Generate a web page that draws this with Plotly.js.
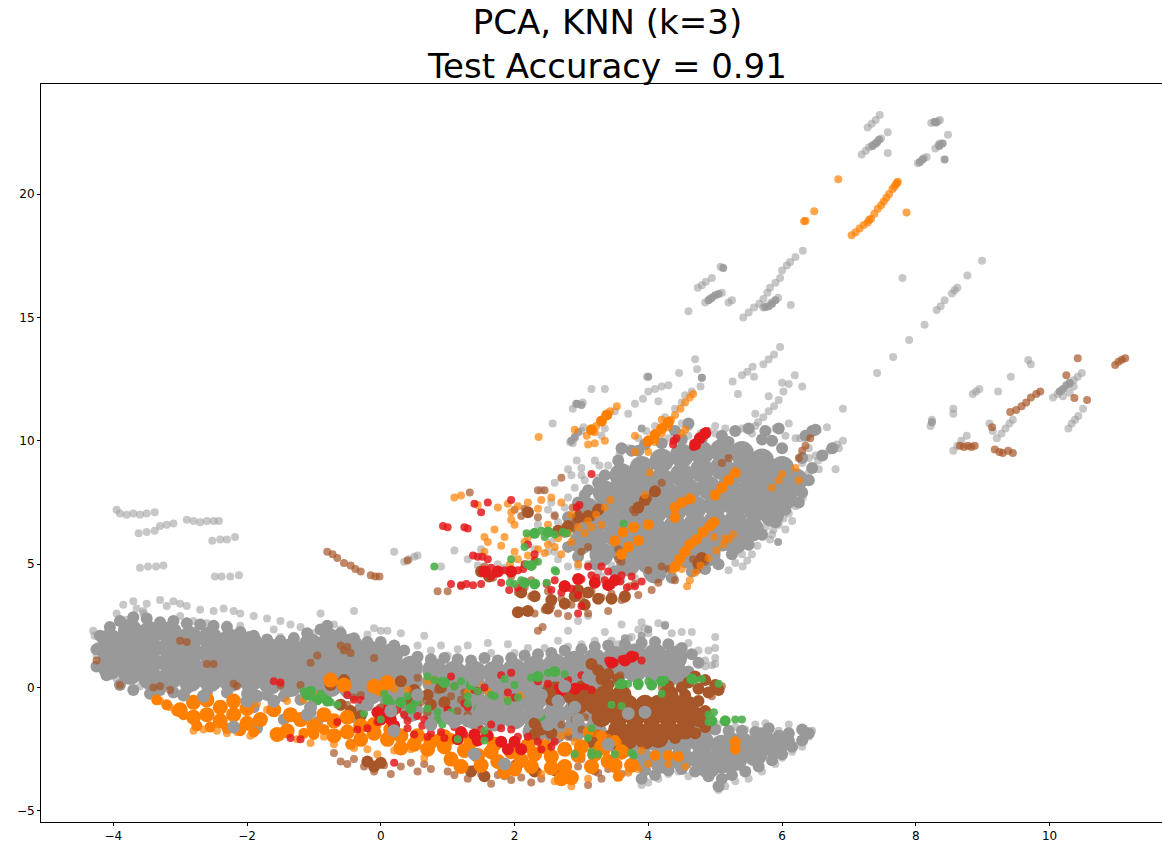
<!DOCTYPE html>
<html><head><meta charset="utf-8">
<script src="https://cdn.plot.ly/plotly-3.0.1.min.js"></script>
<style>html,body{margin:0;padding:0;background:#fff;overflow:hidden}</style>
</head><body><div id="chart"></div>
<script>
// Tick labels
const xTicks=[-4,-2,0,2,4,6,8,10];
const yTicks=[-5,0,5,10,15,20];
// Dense overplotted regions (drawn with wide markers)
const grayCore=[
[-4.05,1.9],[-4.05,1.3],[-4.05,0.8],[-3.75,2.3],[-3.75,1.7],[-3.75,1.1],[-3.75,0.6],[-3.45,2.2],[-3.45,1.6],[-3.45,1.0],[-3.45,0.4],[-3.15,2.2],[-3.15,1.6],[-3.15,1.0],[-3.15,0.4],
[-2.85,2.0],[-2.85,1.4],[-2.85,0.8],[-2.85,0.3],[-2.55,2.0],[-2.55,1.4],[-2.55,0.8],[-2.55,0.3],[-2.25,1.9],[-2.25,1.3],[-2.25,0.8],[-2.25,0.3],[-1.95,1.8],[-1.95,1.2],[-1.95,0.7],[-1.95,0.3],
[-1.65,1.5],[-1.65,1.0],[-1.65,0.5],[-1.65,0.2],[-1.35,1.5],[-1.35,1.0],[-1.35,0.5],[-1.35,0.1],[-1.05,1.7],[-1.05,1.1],[-1.05,0.5],[-1.05,0.0],[-0.75,1.9],[-0.75,1.3],[-0.75,0.7],[-0.75,0.1],
[-0.45,1.7],[-0.45,1.2],[-0.45,0.6],[-0.45,0.0],[-0.15,1.4],[-0.15,0.9],[-0.15,0.4],[-0.15,-0.2],[0.15,1.3],[0.15,0.7],[0.15,0.2],[0.15,-0.4],[0.45,0.8],[0.45,0.3],[0.45,-0.3],[0.45,-0.9],
[0.8,0.7],[0.8,0.2],[0.8,-0.4],[0.8,-1.0],[1.1,0.6],[1.1,0.1],[1.1,-0.5],[1.1,-1.1],[1.4,0.6],[1.4,0.0],[1.4,-0.6],[1.4,-1.2],[1.7,0.6],[1.7,0.0],[1.7,-0.6],[1.7,-1.3],[2.0,0.7],[2.0,0.1],[2.0,-0.5],[2.0,-1.2],
[2.3,0.8],[2.3,0.2],[2.3,-0.5],[2.3,-1.2],[2.3,-1.8],[2.6,0.9],[2.6,0.3],[2.6,-0.4],[2.6,-1.1],[2.6,-1.8],[2.9,1.0],[2.9,0.4],[2.9,-0.3],[2.9,-1.0],[2.9,-1.7],[3.2,1.1],[3.2,0.5],[3.2,-0.2],[3.2,-1.0],[3.2,-1.8],
[3.5,1.2],[3.5,0.6],[3.8,1.3],[3.8,0.7],[4.1,1.3],[4.1,0.7],[4.4,1.2],[4.4,0.6],[3.6,-2.4],[3.9,-2.2],[3.9,-2.9],[4.2,-2.3],[4.2,-3.0],[4.5,-2.2],[4.5,-2.9],[4.8,-2.2],[4.8,-2.9],[4.9,-3.2],[5.1,-2.4],[5.1,-3.0],[5.3,-2.9],[5.4,-2.3],[5.6,-2.7],[5.7,-2.1],[5.9,-2.4],
[3.6,8.6],[3.9,8.9],[4.2,9.2],[4.5,9.4],[4.8,9.5],[5.1,9.6],[5.4,9.5],[5.7,9.2],[6.0,8.9],[6.2,8.4],
[3.35,7.9],[3.6,8.1],[3.9,8.3],[4.2,8.4],[4.5,8.6],[4.8,8.8],[5.1,8.9],[5.4,8.8],[5.7,8.6],[6.0,8.2],
[3.1,7.2],[3.4,7.4],[3.7,7.6],[4.0,7.7],[4.3,7.8],[4.6,8.0],[4.9,8.1],[5.2,8.1],[5.5,8.0],[5.8,7.8],[6.05,7.7],
[3.0,6.6],[3.2,6.7],[3.5,6.9],[3.8,7.0],[4.1,7.1],[4.4,7.2],[4.7,7.3],[5.0,7.4],[5.3,7.4],[5.6,7.2],[5.85,7.0],
[3.0,5.9],[3.2,6.0],[3.5,6.2],[3.8,6.3],[4.1,6.4],[4.4,6.5],[4.7,6.6],[5.0,6.7],[5.3,6.7],[5.55,6.4],
[3.3,5.4],[3.6,5.6],[3.9,5.7],[4.2,5.8],[4.5,5.9],[4.8,6.0],[5.1,6.0],[5.3,5.9],
[3.7,5.0],[4.0,5.1],[4.3,5.2],[4.6,5.3],[4.9,5.4],[4.1,4.7]];
const grayRim=[
[-4.2,2.1],[-4.05,2.45],[-3.9,2.7],[-3.7,2.85],[-3.5,2.8],[-3.3,2.65],[-3.1,2.7],[-2.9,2.6],[-2.7,2.55],[-2.5,2.5],[-2.3,2.45],[-2.1,2.25],[-1.9,2.1],[-1.7,1.95],[-1.5,1.9],[-1.3,2.0],[-1.1,2.2],[-0.9,2.35],[-0.8,2.5],[-0.6,2.2],[-0.4,2.0],[-0.2,1.85],[0,1.85],[0.2,1.7],[0.35,1.5],[0.55,1.25],[0.75,1.15],[0.95,1.2],[1.15,1.15],[1.35,1.1],[1.55,1.2],[1.75,1.1],[1.95,1.2],[2.15,1.3],[2.35,1.35],[2.55,1.4],[2.75,1.5],[3.0,1.55],[3.2,1.65],[3.4,1.7],[3.65,1.75],[3.9,1.8],[4.1,1.85],[4.3,1.75],[4.5,1.6],[4.65,1.35],[4.75,1.0],[4.6,0.65],
[-4.25,1.55],[-4.25,0.85],[-4.1,0.5],[-3.9,0.1],[-3.7,-0.1],[-3.45,-0.25],[-3.3,-0.1],[-3.1,-0.2],[-2.9,-0.05],[-2.6,-0.2],[-2.3,-0.2],[-2.0,-0.25],[-1.7,-0.3],[-1.45,-0.35],[-1.2,-0.5],[-1.9,-0.8],[-2.1,-1.7],[-1.85,-1.65],[-1.45,-1.3],[-1.05,-1.0],[-0.95,-1.4],[-0.6,-0.7],[-0.3,-0.8],[0.0,-0.9],[-0.4,-1.2],
[3.4,-2.3],[3.7,-2.0],[3.95,-3.35],[3.9,-3.7],[4.1,-3.55],[4.3,-3.35],[4.5,-3.3],[4.7,-3.4],[4.9,-3.6],[5.1,-3.7],[5.05,-4.0],[5.25,-3.55],[5.45,-3.4],[5.65,-3.2],[5.85,-2.95],[6.0,-2.7],[6.15,-2.4],[6.3,-2.15],[6.4,-1.85],[6.3,-1.7],[6.1,-1.85],[6.1,-2.15],[5.95,-1.95],[5.8,-1.65],[5.6,-1.8],[5.4,-1.75],[5.2,-1.75],[5.0,-1.7],[5.25,-2.05],[4.85,-1.9],[4.75,-1.75],
[3.35,8.6],[3.55,9.2],[3.85,9.6],[4.2,9.9],[4.5,10.05],[4.8,10.1],[5.1,10.2],[5.3,10.4],[5.5,10.5],[5.75,10.4],[5.95,10.5],[5.7,10.05],[6.0,9.7],[6.3,9.3],[6.45,8.9],[6.4,8.4],[6.3,7.9],[6.25,7.5],[6.05,7.2],[5.9,6.7],[5.7,6.2],[5.5,5.8],[5.25,5.4],[5.05,5.0],[4.85,4.8],[4.65,4.7],[4.35,4.45],[3.5,4.7],[3.2,5.0],[2.95,5.3],[2.8,5.7],[2.75,6.3],[2.8,6.9],[2.95,7.5],[3.1,8.0],[6.35,10.2],[6.45,10.4],[6.5,10.45],[3.05,7.8],[3.25,8.3],[5.2,9.95],[5.85,10.0],
[6.6,9.4],[6.75,9.7],[4.4,10.4],[4.6,10.7],[3.95,9.85],[3.75,9.6],[3.6,9.7]];
const grayDark=[
[8.3,22.9],[8.28,22.93],[7.42,22.1],[7.4,22.05],[7.45,22.2],[7.35,21.95],[8.4,22.05],[8.35,21.95],[8.43,21.4],[8.1,21.4],[8.06,21.3],[5.8,15.45],[5.75,15.42],[5.85,15.55],[5.9,15.7],[4.95,15.8],[4.9,15.7],[5.0,15.9],[5.05,15.95],[5.12,17.0],[10.25,12.25],[10.15,12.0],[10.2,12.1],[10.3,12.35],[8.24,10.75],[5.94,5.9],[4.0,12.6],[3.0,11.45],[2.93,11.5],[4.8,12.55],[3.65,2.0],[4.25,2.5],[4.0,2.35],[3.9,2.1],[2.9,10.15],[2.85,10.0],[2.95,10.35],[3.9,10.5]];
const grayDots=[
[-4.3,2.3],[-4.28,2.1],[-4.22,1.7],[-4.25,1.3],[-4.22,0.9],[-4.1,0.6],[-3.95,0.35],[-3.9,0.1],[-3.6,0.05],[-3.45,-0.25],[-3.4,-0.1],[-3.2,0.05],
[-3.95,3.0],[-3.8,2.75],[-3.65,3.2],[-3.85,3.35],[-3.7,3.5],[-3.3,3.55],[-3.1,3.5],[-3.0,3.4],[-3.2,3.3],[-3.5,3.4],[-3.55,3.1],[-2.9,3.3],[-2.7,3.15],[-2.5,3.1],[-2.35,3.2],[-2.2,3.1],[-2.1,3.0],[-1.9,2.9],[-1.7,2.8],[-1.5,2.7],[-1.35,2.55],[-1.2,2.45],[-3.55,3.0],
[-3.0,2.9],[-2.8,2.7],[-2.6,2.6],[-2.3,2.55],[-2.1,2.5],[-1.6,2.35],[-1.3,2.1],[-1.5,2.05],[-1.0,2.2],[-0.6,2.35],[-0.7,2.55],[-0.6,2.1],[-0.2,2.15],[-0.1,2.4],[0,2.3],[0.3,2.2],[0.65,2.1],
[-0.9,3.0],[-0.4,3.1],[0.1,2.3],[0.9,1.7],[1.15,1.55],[1.3,1.7],[1.6,1.8],[1.9,1.75],[2.2,1.6],[0.55,1.7],[0.75,1.5],[1.65,1.4],[2.0,1.4],[2.45,1.6],[1.0,1.3],
[2.65,1.9],[2.8,2.3],[2.95,2.7],[3.1,2.9],[3.2,1.9],[3.35,2.25],[3.45,1.9],[3.55,1.75],[3.7,2.0],[3.75,2.05],[3.85,2.35],[3.95,2.4],[4.0,2.2],[4.15,2.6],[4.25,2.55],[4.35,2.2],[4.5,2.25],[4.65,2.25],[4.45,1.6],[4.6,1.8],[4.75,1.5],[4.9,1.5],[3.4,1.7],[3.7,1.55],[3.0,1.75],[2.8,1.65],[3.6,2.55],[3.9,2.65],
[4.85,1.1],[5.0,0.95],[5.0,1.2],[4.95,0.9],[4.85,0.85],[5.0,2.05],[5.0,1.6],
[3.7,-3.4],[3.9,-3.95],[4.0,-3.85],[4.15,-3.7],[4.3,-3.5],[4.45,-3.4],[4.6,-3.6],[5.05,-4.15],[5.15,-4.0],[5.3,-3.8],[5.5,-3.7],[5.7,-3.4],[5.9,-3.1],[6.0,-2.85],[6.15,-2.6],[6.3,-2.4],[6.4,-2.0],[6.45,-1.75],[6.3,-1.65],[6.1,-1.5],[5.95,-1.75],[5.75,-1.45],[5.6,-1.5],[5.45,-1.7],[5.3,-1.6],[5.05,-1.5],[4.95,-1.6],
[-3.95,7.2],[-3.9,7.05],[-3.8,7.0],[-3.7,7.05],[-3.6,7.0],[-3.5,7.05],[-3.38,7.1],[-3.62,6.25],[-3.5,6.3],[-3.38,6.35],[-3.3,6.55],[-3.2,6.6],[-3.1,6.65],[-3.6,4.85],[-3.48,4.9],[-3.36,4.9],[-3.25,4.95],[-2.9,6.8],[-2.8,6.75],[-2.7,6.7],[-2.6,6.75],[-2.5,6.75],[-2.42,6.75],[-2.52,5.95],[-2.4,6.0],[-2.3,6.0],[-2.18,6.1],[-2.48,4.5],[-2.38,4.5],[-2.25,4.5],[-2.12,4.55],[0.42,5.2],[0.5,5.3],[0.55,5.35],[0.2,5.5],[0.35,5.1],
[1.1,5.55],[1.3,5.2],[1.45,4.95],[1.5,5.6],[1.75,5.0],[1.85,4.85],[0.9,4.9],
[2.57,10.7],[2.83,9.95],[2.9,10.1],[3.0,10.4],[3.03,10.55],[2.87,9.9],[2.87,11.3],[2.92,11.5],[3.02,11.55],[3.15,12.1],[3.35,12.1],[2.93,9.2],[3.0,8.9],[3.2,9.2],[3.27,9.0],[2.8,8.85],[2.85,8.6],[3.05,8.4],[2.6,8.3],[2.4,8.0],
[3.57,9.45],[3.7,9.7],[3.85,10.1],[3.97,10.4],[3.3,10.2],[3.35,10.5],[3.5,11.2],[3.7,11.1],[3.8,11.5],[3.92,11.7],[4.0,12.0],[4.1,12.1],[4.2,12.2],[4.3,12.25],[4.15,11.6],[3.98,12.6],[4.46,12.75],[4.7,13.3],[4.73,12.9],[4.8,12.55],[4.78,12.2],[4.65,12.0],[4.55,11.85],[4.5,11.55],[4.4,11.3],[4.25,10.95],[4.1,10.6],[4.35,10.5],[4.5,10.7],[4.6,10.55],[4.78,10.3],
[5.97,13.8],[5.72,13.1],[5.8,13.3],[5.88,13.5],[5.4,12.66],[5.48,12.8],[5.56,13.0],[5.26,12.4],[5.58,12.6],[5.34,11.9],[5.8,11.8],[5.64,10.75],[5.72,10.95],[5.8,11.2],[5.88,11.4],[5.95,11.65],[6.02,12.0],[6.1,12.3],[6.19,12.66],[6.0,12.35],[6.3,12.2],[5.6,11.1],[6.91,11.3],[6.67,10.55],[6.8,8.85],[6.54,9.2],[6.62,9.45],[6.7,9.6],[6.82,9.85],[6.91,10.0],[6.85,9.7],[6.27,10.1],[5.5,10.5],[5.55,10.3],[5.75,10.4],[5.9,10.5],[6.1,10.7],[5.0,10.6],[4.9,10.4],[5.15,10.5],[5.3,10.45],[5.4,10.5],[6.4,9.7],[6.5,9.4],[6.4,9.3],[6.3,9.1],[6.55,8.85],[6.4,8.7],[6.3,8.6],
[5.87,6.38],[5.95,6.6],[6.02,6.85],[6.1,7.05],[6.2,7.35],[6.31,7.7],[6.05,6.4],[6.15,6.75],[5.41,4.9],[5.48,5.15],[5.55,5.4],[5.63,5.75],[5.71,6.1],[5.2,4.75],[5.3,5.05],[5.4,5.4],[5.5,5.7],[5.82,6.0],[5.6,6.25],[5.75,6.5],[5.85,6.2],
[3.1,8.0],[2.9,8.1],[2.8,7.7],[2.55,7.5],[2.35,6.6],[2.65,6.7],[2.6,6.2],[2.3,5.6],[2.5,5.5],[2.65,5.2],[2.8,4.9],[3.1,5.0],[3.45,4.95],[3.55,4.6],[3.3,4.5],[3.8,4.45],
[3.0,8.6],[3.25,8.5],[3.4,9.0],[3.6,9.6],[4.0,9.95],[4.3,10.1],[4.6,10.2],[5.0,10.3],[5.6,10.6],[6.05,10.2],[6.2,10.1],[2.6,7.0],[2.5,7.2],[2.75,7.3],[2.55,5.9],[2.6,5.5],[2.95,4.9],[3.25,4.7],[3.6,4.35],
[7.28,22.7],[7.34,22.85],[7.4,23.0],[7.46,23.2],[7.19,21.6],[7.25,21.75],[7.3,21.9],[7.36,22.0],[7.48,22.25],[7.58,22.5],[7.58,21.66],[8.23,22.88],[8.33,22.95],[8.36,23.0],
[8.29,21.85],[8.34,22.0],[8.48,22.4],[8.36,22.05],[8.03,21.25],[8.12,21.45],[8.16,21.5],
[6.0,16.9],[6.07,17.1],[6.12,17.25],[6.2,17.45],[6.31,17.7],[5.42,15.0],[5.5,15.2],[5.58,15.4],[5.66,15.55],[5.72,15.75],[5.78,16.0],[5.82,16.2],[5.9,16.4],[5.97,16.6],[5.72,15.4],[5.84,15.6],[5.94,15.8],
[4.74,16.2],[4.8,16.3],[4.86,16.45],[4.95,16.6],[5.08,17.05],[4.85,15.6],[4.92,15.75],[5.1,16.0],[5.25,15.7],[5.2,15.6],[4.6,15.25],[6.13,15.5],
[7.42,12.75],[7.66,13.4],[7.9,14.08],[8.13,14.7],[8.31,15.3],[8.37,15.45],[8.43,15.7],[8.54,15.97],[8.58,16.1],[8.62,16.2],[8.77,16.7],[8.99,17.3],[7.8,16.6],
[8.22,10.6],[8.24,10.85],[8.56,11.1],[8.56,11.3],[8.85,11.9],[8.9,12.0],[8.95,12.1],[9.23,12.0],[9.42,12.6],[9.68,13.27],[9.72,13.1],
[9.21,10.1],[9.28,10.3],[9.34,10.5],[9.4,10.7],[9.45,10.85],[8.56,9.6],[8.62,9.8],[8.68,10.0],[8.76,10.2],[9.1,10.7],[9.15,10.4],
[10.05,11.75],[10.12,11.9],[10.18,12.05],[10.3,12.3],[10.36,12.45],[10.42,12.6],[10.48,12.75],[10.2,11.8],[10.3,11.95],[10.36,12.2],[10.28,10.5],[10.33,10.7],[10.38,10.85],[10.43,11.0],[10.5,11.3]];
const brownCore=[
[2.62,-0.15],[2.85,-0.25],[3.1,-0.3],[3.35,-0.3],[2.95,-0.7],[3.2,-0.7],[3.45,-0.7],[3.7,-0.7],[3.95,-0.7],[4.15,-0.7],[4.4,-0.7],[4.6,-0.75],[3.3,-1.2],[3.55,-1.2],[3.8,-1.2],[4.05,-1.2],[4.3,-1.2],[4.55,-1.2],[4.75,-1.2],[3.55,-1.7],[3.8,-1.7],[4.05,-1.7],[4.3,-1.7],[4.55,-1.7],[3.2,-2.1],[3.45,-2.1],[3.7,-2.1],[3.95,-2.1],[4.15,-2.05],[4.3,-0.3],[3.6,-0.3]];
const brownMid=[
[2.5,-0.1],[2.55,-0.5],[2.75,0.05],[3.0,0.05],[3.25,0.7],[3.4,0.55],[3.55,0.35],[3.3,0.35],[3.15,0.95],[3.4,0.1],[4.55,-0.3],[4.75,-0.55],[4.85,-0.95],[4.3,0.05],[4.5,0.0],[4.7,0.45],[4.85,0.3],[5.0,0.1],[4.9,-0.2],[4.75,-0.05],[5.05,-0.1],[4.6,0.2],[4.85,-1.6],[4.7,-1.85],[4.4,-2.05],
[2.3,-1.45],[2.4,-1.7],[2.55,-1.85],[2.3,-1.9],
[0.3,0.25],[0.5,-0.1],[0.7,-0.3],[0.9,0.0],[0.75,-0.7],[0.95,-0.6],[0.45,-0.55],[-0.6,-0.7],[-0.45,-0.95],[-0.3,-1.15],[-0.75,0.1],[-0.55,0.3],
[-0.2,-3.0],[-0.1,-3.2],[0.0,-3.05],[2.05,-3.1],[2.3,-3.4],[2.6,-3.35],[1.35,-3.4],[1.55,-3.6],
[1.5,4.7],[1.62,4.5],[2.1,3.85],[2.3,3.7],[2.55,3.55],[2.5,3.2],[2.75,3.4],[2.9,3.7],[3.05,3.35],[3.25,3.6],[3.45,3.6],[3.65,3.7],[2.2,3.1],[2.05,3.05],[2.75,4.1],[2.95,3.95],[3.1,3.85],
[2.95,6.9],[3.1,6.95],[3.25,7.2],[2.8,6.55],[2.65,6.35],[2.2,7.1],[3.85,7.3],[3.95,7.6],[4.1,7.95],[4.75,5.05],[4.8,5.25]];
const brownDots=[
[2.43,-0.3],[2.5,0.05],[3.6,0.15],[3.58,0.5],[4.2,0.0],[4.35,-0.15],[5.1,0.05],[4.95,-0.35],
[2.9,-1.3],[3.0,-1.7],[2.7,-1.5],[3.05,-1.2],[2.8,-2.0],
[-4.25,1.1],[-3.9,0.1],[-3.4,0.0],[-3.3,0.05],[-3.15,-0.1],[-3.0,1.9],[-2.9,1.85],[-2.6,0.95],[-2.5,0.95],[-2.2,0.15],[-2.15,0.05],[-1.05,1.0],[-0.95,1.3],[-0.6,1.7],[-0.55,1.5],[-0.5,1.65],[-0.45,1.4],[-0.1,1.2],[-1.5,0.1],[-1.2,0.1],
[0.55,0.4],[0.85,-0.1],[1.05,-0.35],[1.1,0.05],[1.2,-0.5],[1.25,-0.2],[0.6,-0.6],[0.7,-1.0],[1.0,-0.9],[1.15,-0.95],[1.3,-1.1],[0.0,-0.8],[0.1,-1.2],[0.2,-1.0],[0.3,-0.7],[-0.5,-0.7],[-0.4,-0.4],[-0.3,-0.3],
[-0.6,-3.0],[-0.5,-3.1],[-0.4,-2.9],[-0.25,-3.2],[-0.1,-3.4],[0.05,-3.15],[0.15,-3.5],[0.3,-3.2],[0.55,-3.4],[0.65,-3.1],[0.75,-3.3],[1.0,-3.4],[1.25,-3.2],[1.3,-3.7],[1.5,-3.5],[1.65,-3.9],[1.85,-3.6],
[2.1,-3.65],[2.25,-3.85],[2.35,-3.4],[2.55,-3.3],[2.7,-3.5],[2.85,-3.75],[3.1,-3.95],[3.2,-3.4],[3.4,-3.3],[3.55,-3.1],[3.6,-3.5],[2.0,-3.1],
[1.75,-3.55],[1.95,-3.75],[2.4,-3.7],[2.95,-3.2],[3.3,-3.7],[3.75,-3.25],[1.4,-3.3],[1.1,-3.55],[0.45,-3.05],[-0.7,-2.65],[3.0,-2.9],[3.25,-3.45],
[-0.8,5.5],[-0.72,5.4],[-0.65,5.25],[-0.55,5.05],[-0.45,4.95],[-0.38,4.8],[-0.3,4.7],[-0.15,4.55],[-0.08,4.5],[-0.02,4.5],[0.4,5.15],
[1.55,4.9],[1.65,4.55],[1.7,4.6],[1.95,4.5],[1.68,4.45],[0.85,3.9],[1.2,4.1],[1.0,3.9],
[2.05,3.85],[2.15,4.05],[2.25,3.7],[2.5,3.9],[2.55,3.3],[2.7,3.6],[2.85,3.35],[3.0,3.6],[3.15,3.9],[3.3,3.65],[3.45,3.8],[3.6,3.55],[3.72,4.1],[3.85,3.75],[4.05,3.95],[4.15,4.25],[2.05,3.0],[2.1,3.1],[2.3,3.0],[2.45,3.15],[2.65,3.0],[2.8,2.9],[3.1,3.0],[3.4,3.1],[3.65,3.6],[2.95,4.35],[2.25,4.35],[2.35,2.3],[2.42,2.45],
[2.87,7.3],[2.95,7.05],[3.05,6.85],[3.15,6.9],[3.22,7.1],[3.27,7.3],[2.9,6.65],[2.75,6.5],[2.65,6.3],[2.85,6.45],[2.0,7.2],[2.1,6.95],[2.15,7.25],[2.35,6.9],[2.6,6.95],
[3.77,7.2],[3.85,7.35],[3.93,7.55],[4.0,7.7],[4.1,7.95],[4.2,8.3],[3.8,7.1],[4.67,5.2],[4.72,5.0],[4.78,5.3],[4.85,5.1],[4.73,4.75],[3.1,5.7],[3.0,5.5],[3.55,5.2],[3.6,5.1],[4.0,4.75],[4.2,4.9],[4.3,4.8],[4.4,4.35],[3.8,4.2],[3.55,5.6],
[6.3,9.6],[6.35,9.8],[6.42,10.1],[6.25,9.3],[5.1,9.1],[5.2,9.3],[2.7,8.5],[2.45,8.0],[2.35,8.0],[1.33,7.9],
[8.66,9.8],[8.72,9.75],[8.78,9.8],[8.83,9.75],[8.88,9.8],[9.18,9.65],[9.25,9.55],[9.3,9.5],[9.38,9.6],[9.45,9.5],[9.14,10.55],[9.41,11.17],[9.5,11.25],[9.58,11.4],[9.65,11.55],[9.72,11.75],[9.8,11.9],[9.86,12.0],[10.25,12.66],[10.42,13.35],[10.37,11.73],[10.56,11.65],[10.98,13.07],[11.03,13.2],[11.08,13.28],[11.13,13.35]];
const orangeCore=[
[-2.8,-0.6],[-2.8,-1.2],[-2.6,-0.5],[-2.6,-1.1],[-2.4,-0.8],[-2.4,-1.35],[-2.2,-1.1],[-2.0,-1.45],[-1.8,-1.3],[-1.6,-0.9],[-1.35,-1.1],[-1.2,-1.3],[-1.4,-1.75],[-1.55,-1.9],
[-2.2,-0.55],[-2.0,-0.85],[-3.0,-0.9],[-1.0,-1.55],[-0.85,-1.1],[-0.5,-1.2],[-0.1,-1.5],[0.15,-1.7],[0.7,-2.5],[0.75,-2.2],[0.95,-2.0],[1.35,-2.2],[1.7,-2.3],[2.2,-2.35],[2.45,-2.4],[2.75,-2.5],[3.0,-2.4],[3.3,-2.4],[3.6,-2.6],[2.0,-3.3],[1.85,-3.4],
[-0.7,-1.35],[-0.5,-1.8],[-0.7,-1.95],[-0.3,-1.55],[-0.3,-2.1],[-0.1,-1.85],[0.1,-2.1],[0.3,-1.95],[0.3,-2.45],[0.5,-2.3],[0.55,-1.95],
[-0.75,0.3],[-0.55,0.1],[-0.1,0.05],[0.1,0.2],[0.0,-0.05],
[0.95,-2.4],[1.05,-2.9],[1.25,-2.55],[1.2,-3.2],[1.45,-2.75],[1.65,-2.6],[1.5,-3.15],[1.75,-3.0],[1.95,-2.6],[2.1,-2.95],[2.3,-2.7],[2.25,-3.2],[2.55,-2.8],[2.55,-3.25],[2.75,-3.2],[2.85,-3.65],[2.95,-2.75],[3.15,-3.2],[3.2,-2.7],[3.4,-3.0],[3.5,-3.15],[3.75,-3.15],[2.7,-3.7]];
const orangeMid=[
[-3.2,-0.7],[-3.05,-0.95],[-2.95,-1.1],[-3.35,-0.5],[-2.75,-1.55],[-2.55,-1.6],[-2.3,-1.65],[-2.1,-1.75],[-1.9,-1.8],[-1.15,-1.85],[-1.0,-1.9],[-0.85,-1.7],[-0.45,-2.3],
[4.4,4.9],[4.47,5.2],[4.55,5.5],[4.62,5.8],[4.72,6.0],[4.82,6.3],[4.92,6.55],[4.98,6.7],[4.4,7.3],[4.5,7.5],[4.62,7.65],[5.0,7.8],[5.1,8.1],[5.2,8.4],[5.3,8.7],
[4.0,10.0],[4.1,10.25],[4.2,10.5],[4.3,10.75],[3.15,10.45],[3.3,10.8],[3.38,11.05],
[0.85,-2.1],[1.05,-2.1],[3.35,-2.55],[3.6,-2.7],[4.1,-2.75],[4.3,-2.75],[4.45,-2.8],[5.3,-2.2],[5.3,-2.5],[3.1,-1.8],[3.3,-1.95],[3.5,-2.15],[3.55,-3.6],
[3.5,5.95],[3.62,6.3],[3.78,6.5],[3.7,5.7],[3.85,5.95],[4.0,6.6],[3.6,5.4],[4.4,6.9]];
const orangeDots=[
[-3.3,-0.55],[-3.15,-0.8],[-2.95,-1.0],[-2.8,-1.75],[-2.65,-1.7],[-2.45,-1.75],[-2.3,-1.85],[-2.15,-1.8],[-1.95,-1.95],[-1.6,-1.85],[-1.5,-2.0],[-1.25,-2.1],[-1.05,-2.25],[-0.85,-2.0],[-0.7,-2.3],[-0.4,-2.45],[-0.2,-2.5],[-0.05,-2.7],[0.2,-2.55],[0.45,-2.5],[0.65,-2.85],
[-1.85,-0.65],[-1.7,-0.9],[-1.4,-0.55],[-1.15,-0.5],[-0.95,-0.3],
[0.2,-0.05],[0.4,-0.1],[0.7,0.25],[0.8,0.3],[1.3,-0.2],[1.45,0.2],[1.6,-0.15],
[1.05,-2.0],[1.7,-2.5],[2.2,-2.3],[2.4,-3.5],[2.6,-3.8],[2.85,-4.0],[3.1,-3.7],[3.5,-3.3],[3.7,-3.45],[3.85,-3.3],[4.0,-3.1],[3.9,-2.55],[4.3,-3.1],[4.55,-3.2],[1.9,-0.5],[2.1,-0.3],
[3.1,-1.75],[3.2,-1.85],[3.3,-2.0],[3.4,-2.05],[3.5,-2.1],[3.55,-2.25],[2.7,-1.95],[2.8,-1.8],[2.9,-2.2],
[4.37,4.75],[4.5,4.8],[4.98,6.1],
[5.85,8.1],[5.95,8.4],[6.0,8.65],[3.98,9.9],[4.34,10.85],[4.4,11.05],[4.48,11.3],[4.55,11.55],[4.62,11.75],[4.67,11.9],[4.1,10.05],[4.2,10.3],[4.3,10.55],[4.1,9.95],
[4.5,10.3],[4.55,10.45],[4.2,10.85],[3.08,10.2],[3.15,10.4],[3.22,10.6],[3.36,11.0],[3.43,11.2],[3.2,10.35],[2.9,10.45],[3.1,9.85],[3.2,9.9],[3.35,10.0],
[2.36,10.15],[3.53,11.4],[3.8,10.2],[3.8,9.55],[4.0,9.55],[1.1,7.7],[1.2,7.78],
[1.93,5.0],[2.05,5.2],[2.2,5.35],[2.35,5.6],[2.5,5.8],[2.65,6.05],[2.8,6.25],[2.95,6.5],[3.1,6.75],[3.22,7.0],[3.35,7.3],[3.43,7.6],[2.3,5.1],[2.45,5.45],[2.6,5.7],[2.85,5.9],[3.05,6.25],[3.15,6.5],[3.3,6.6],
[3.95,7.8],[4.02,8.7],[1.7,6.4],[1.85,6.1],[1.8,5.75],[1.95,7.1],[2.2,7.5],[2.4,7.6],[2.55,7.7],[2.05,7.35],[1.6,5.9],[1.75,7.3],[1.9,7.45],[1.55,5.5],[2.0,6.6],[2.15,5.9],
[2.0,5.5],[2.2,6.1],[1.95,6.8],[2.7,7.5],[2.85,7.0],[1.55,6.1],[1.45,7.4],[2.35,7.25],[2.5,6.6],[2.7,5.4],[2.95,5.0],
[5.27,6.2],[5.2,6.0],[5.12,5.8],[5.02,5.55],[4.9,5.25],[4.78,4.95],[4.7,4.65],[4.62,4.35],[4.58,4.1],[5.15,6.05],[6.25,8.4],[6.2,8.9],
[7.04,18.33],[7.1,18.45],[7.16,18.6],[7.22,18.75],[7.28,18.85],[7.33,19.0],[7.38,19.2],[7.43,19.4],[7.48,19.55],[7.52,19.7],[7.56,19.85],[7.6,20.0],[7.65,20.2],[7.7,20.4],[7.73,20.5],[7.72,20.45],[7.68,20.3],[7.3,18.95],[6.84,20.6],[6.48,19.3],[6.33,18.9],[6.35,18.92],[7.86,19.25]];
const redMid=[
[1.2,-1.8],[1.4,-1.9],[1.6,-1.95],[1.8,-2.2],[2.0,-2.2],[2.1,-2.5],[1.9,-2.5],[1.15,-2.1],[1.45,-2.15],[0.0,-1.3],[0.15,-1.3],[0.1,-1.0],[-0.05,-1.0],[0.2,-1.55],
[3.45,1.0],[3.65,1.1],[3.75,1.25],[2.7,-0.1],[2.9,-0.05],[1.55,4.7],[1.75,4.7],[1.95,4.7],[2.75,4.1],[2.95,4.4],[3.2,4.25],[3.4,4.15],[3.5,4.35],[4.77,10.1],[4.7,9.85],[4.85,10.3]];
const redDots=[
[0.93,6.55],[1.0,6.5],[1.25,6.5],[1.3,6.45],[1.38,5.35],[1.45,5.3],[1.52,5.3],[1.6,5.2],[1.05,4.2],[1.2,4.15],[1.28,4.2],[1.38,4.15],[1.5,4.2],
[1.58,4.75],[1.65,4.85],[1.75,4.7],[1.85,4.75],[1.95,4.7],[2.05,4.75],[2.13,4.8],[1.65,4.5],[1.8,4.25],[1.92,3.95],[2.05,4.05],[1.4,7.45],[1.6,7.5],[1.95,7.6],[1.5,7.1],
[2.48,4.2],[2.6,4.35],[2.75,4.1],[2.85,4.0],[2.95,3.75],[2.7,3.85],[2.55,3.95],[3.0,4.4],[3.1,4.9],[3.15,4.55],[3.22,4.45],[3.35,4.35],[3.45,4.15],[3.58,4.3],[3.68,4.05],[3.3,4.9],[3.4,4.7],[3.6,4.55],[3.75,4.5],
[2.2,5.8],[2.3,5.4],[2.3,5.15],[2.15,5.0],[2.95,3.0],[3.0,3.3],[2.93,7.3],[2.97,7.4],[3.8,4.1],[3.9,4.3],
[4.67,9.75],[4.72,9.95],[4.82,10.25],[4.87,10.4],[4.37,9.85],[4.42,10.1],[4.38,10.0],[3.15,8.65],
[-0.05,-1.0],[0.1,-0.75],[0.2,-1.6],[0.25,-0.9],[-0.2,-1.65],[0.4,-1.35],[0.55,-1.15],[0.65,-1.3],[0.4,-1.65],[0.5,-1.9],[0.7,-2.0],[0.62,-1.55],[0.75,-1.85],[0.35,-1.1],[-0.05,-1.4],
[1.05,0.45],[1.4,-0.1],[1.45,-0.15],[1.0,-0.9],[1.25,-0.65],[1.3,-0.8],[1.1,-1.6],[0.95,-2.05],[1.25,-1.9],[0.9,-1.8],[1.5,-1.7],[1.55,-1.95],[1.65,-1.5],[1.8,-1.65],[1.95,-1.7],[2.05,-2.0],[2.2,-2.0],[2.35,-2.2],[2.55,-2.4],[2.4,-2.5],[2.6,-2.2],[1.55,0.0],[1.8,0.5],[1.95,0.6],[1.9,-0.2],[2.0,-0.4],
[2.35,0.25],[2.5,0.15],[2.65,0.0],[2.95,0.0],[3.05,0.05],[3.15,-0.1],[3.0,0.5],[2.8,0.3],[3.4,1.1],[3.6,1.15],[3.8,1.3],[3.9,1.1],[3.8,1.25],[3.5,1.0],[0.2,-3.05],[-1.35,-2.05],[-1.2,-2.1],[-1.6,0.25],[-1.5,0.2],[-0.5,-0.3],[-0.4,-0.5],[-0.3,-0.5],[-0.35,-1.7],[-0.65,-1.4]];
const greenMid=[
[-1.1,-0.3],[-0.95,-0.5],[-0.8,-0.55],[-1.05,-0.15],[0.1,-0.5],[0.3,-0.6],[0.45,-0.85],[3.6,0.15],[3.85,0.15],[4.05,0.1],[4.2,0.25],[4.65,0.35],[4.95,-1.35],[5.15,-1.35],[0.95,0.2],[1.35,0.1],[2.35,0.45],[2.6,0.65],[2.3,6.25],[2.5,6.3],[2.15,4.25],[2.3,4.2],[2.25,4.95]];
const greenDots=[
[-1.15,-0.15],[-1.02,-0.5],[-0.85,-0.4],[-0.75,-0.6],[-0.65,-0.7],[-0.9,-0.25],[-0.25,-1.05],[0.0,-1.3],
[0.05,-0.25],[0.15,-0.6],[0.5,-0.65],[0.7,-0.85],[0.4,-0.35],[0.55,-0.55],[0.85,-1.0],[0.85,-1.3],[0.92,-1.5],[1.05,-1.0],
[0.7,0.45],[0.8,0.3],[0.9,0.25],[1.1,0.05],[1.2,0.25],[1.45,-0.15],[1.65,-0.3],[1.85,0.35],[1.7,-0.35],[1.3,-0.65],[1.45,-0.85],[1.15,-2.1],[1.55,-1.75],[1.55,-2.15],[1.3,-0.35],
[2.25,0.4],[2.5,0.6],[2.75,0.55],[2.0,0.1],[2.05,-0.4],[1.9,-0.55],[2.4,-1.2],
[3.55,0.1],[3.7,0.15],[4.0,0.25],[4.25,0.3],[3.85,0.05],[4.2,-0.25],[3.45,-0.7],[3.6,-0.75],[4.7,0.3],[4.8,0.35],[5.05,0.15],
[4.9,-1.1],[4.98,-1.0],[4.9,-1.4],[5.3,-1.3],[5.4,-1.3],[3.1,-2.05],[3.15,-2.6],[3.25,-2.7],[3.15,-2.75],[3.5,-2.7],[3.75,-2.65],[3.78,-2.75],[2.9,-2.7],[3.15,-1.65],
[2.18,6.25],[2.4,6.35],[2.6,6.2],[2.72,6.3],[2.78,6.25],[2.45,6.1],[2.18,5.0],[2.35,5.1],[1.93,4.25],[2.0,4.2],[2.1,4.35],[2.48,4.25],[0.8,4.9],[2.6,4.75],[2.62,4.7],[3.63,6.65],[1.95,5.2],[2.15,5.7]];
const grayOverlay=[
[1.1,-1.4],[1.7,-1.0],[2.35,-1.0],[2.6,-1.2],[2.95,-1.3],[3.1,0.4],[1.4,-2.7],[0.55,-0.3],[0.2,-1.75],[0.75,-1.5],[-1.1,-1.1],[-1.6,-0.55],[-2.0,-0.55],[-2.65,-0.35],[1.4,0.3],[2.2,-0.1],
[0.15,-0.95],[2.75,0.05],[2.2,-0.7],[2.65,-0.55],[1.9,-1.05],[2.0,-1.0],[1.6,-0.7],[1.3,-1.35],[1.0,-1.2],[2.4,-0.3],[3.95,-1.0],[3.7,-1.05],[2.9,-0.8],[2.5,-1.5],[-2.2,-1.6],[-1.05,-0.8],[-1.85,-0.35],[-0.2,-0.7],[1.85,-3.1],[3.4,-2.3],[-2.95,-0.3],[1.5,-0.9]];

const AXIS={showgrid:false,zeroline:false,showline:true,linecolor:'#000',linewidth:1,ticks:'outside',ticklen:3,tickwidth:1,tickcolor:'#000',tickfont:{family:'DejaVu Sans',size:12,color:'#000'}};
function layer(pts,color,size,op){return {type:'scatter',mode:'markers',x:pts.map(p=>p[0]),y:pts.map(p=>p[1]),hoverinfo:'skip',showlegend:false,marker:{color:color,size:size,opacity:op,line:{width:0}}};}
const COL={gray:'#999999',brown:'#a65628',orange:'#ff7f00',red:'#e41a1c',green:'#4daf4a'};
const traces=[
 layer(grayDots,COL.gray,8,0.55),
 layer(grayDark,COL.gray,8,0.9),
 layer(grayRim,COL.gray,12,1),
 layer(grayCore,COL.gray,24,1),
 layer(brownDots,COL.brown,8,0.7),
 layer(brownMid,COL.brown,12,1),
 layer(brownCore,COL.brown,20,1),
 layer(orangeDots,COL.orange,8,0.7),
 layer(orangeMid,COL.orange,11,1),
 layer(orangeCore,COL.orange,15,1),
 layer(redDots,COL.red,8,0.85),
 layer(redMid,COL.red,12,1),
 layer(greenDots,COL.green,8,0.9),
 layer(greenMid,COL.green,11,1),
 layer(grayOverlay,COL.gray,13,1)
];
const layout={width:1162,height:843,margin:{l:41,r:0,t:84,b:21},paper_bgcolor:'#fff',plot_bgcolor:'#fff',showlegend:false,
 title:{text:'PCA, KNN (k=3)<br>Test Accuracy = 0.91',font:{family:'DejaVu Sans',size:34,color:'#000'},x:0.5228,xanchor:'center',xref:'container',y:0.96,yanchor:'top'},
 xaxis:Object.assign({},AXIS,{range:[-5.08,11.68],tickvals:xTicks,ticktext:xTicks.map(v=>String(v).replace('-','\u2212')),mirror:true}),
 yaxis:Object.assign({},AXIS,{range:[-5.45,24.46],tickvals:yTicks,ticktext:yTicks.map(v=>String(v).replace('-','\u2212'))})};
Plotly.newPlot('chart',traces,layout,{displayModeBar:false,staticPlot:true});
</script></body></html>
